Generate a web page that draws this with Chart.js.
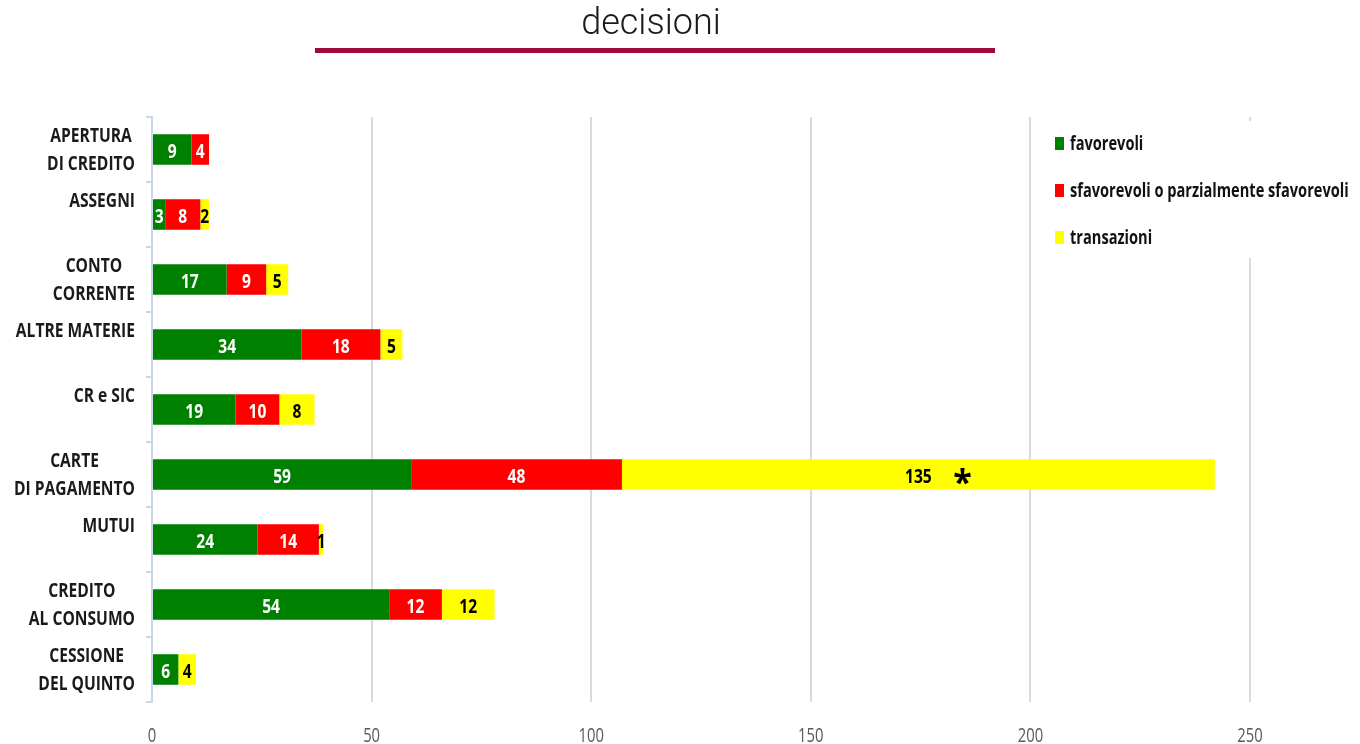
<!DOCTYPE html>
<html>
<head>
<meta charset="utf-8">
<script src="https://cdn.jsdelivr.net/npm/chart.js@4.4.0/dist/chart.umd.min.js"></script>
<style>
  html, body { margin: 0; padding: 0; background: #fff; }
  #wrap { position: relative; width: 1360px; height: 744px; }
  #title { position: absolute; left: 0; top: 1px; width: 1302px; text-align: center;
           font: 300 36px/42px Roboto, "Open Sans", sans-serif; color: #1a1a1a; }
  #rule { position: absolute; left: 315px; top: 48px; width: 680px; height: 5px; background: #9e0a3a; }
</style>
</head>
<body>
<div id="wrap">
  <canvas id="decisioniChart"></canvas>
  <div id="title">decisioni</div>
  <div id="rule"></div>
</div>
<script>
// categorie (seconda riga vuota dove l'etichetta e' su una sola riga)
const categories = [
    ['APERTURA', 'DI CREDITO'],
    ['ASSEGNI', ''],
    ['CONTO', 'CORRENTE'],
    ['ALTRE MATERIE', ''],
    ['CR e SIC', ''],
    ['CARTE', 'DI PAGAMENTO'],
    ['MUTUI', ''],
    ['CREDITO', 'AL CONSUMO'],
    ['CESSIONE', 'DEL QUINTO']
];
const favorevoli  = [9, 3, 17, 34, 19, 59, 24, 54, 6];
const sfavorevoli = [4, 8, 9, 18, 10, 48, 14, 12, 0];
const transazioni = [0, 2, 5, 5, 8, 135, 1, 12, 4];
const transazioniNote = ['', '', '', '', '', '*', '', '', ''];
const xTicks = [0, 50, 100, 150, 200, 250];

const FAMILY = '"Open Sans", "Noto Sans", sans-serif';
const BOLD = 'bold 20px ' + FAMILY;
const SX = 0.78;   // testo stretto come nell'originale

// scrive un testo compresso in orizzontale
function squeezedText(ctx, text, x, y, align, sx) {
    ctx.save();
    ctx.translate(x, y);
    ctx.scale(sx, 1);
    ctx.textAlign = align;
    ctx.textBaseline = 'alphabetic';
    ctx.fillText(text, 0, 0);
    ctx.restore();
}

// valori dentro le barre
const segmentLabels = {
    id: 'segmentLabels',
    afterDatasetsDraw(chart) {
        const ctx = chart.ctx;
        ctx.save();
        chart.data.datasets.forEach((ds, di) => {
            const meta = chart.getDatasetMeta(di);
            meta.data.forEach((bar, i) => {
                const v = ds.data[i];
                if (!v) return;
                const cx = (bar.x + bar.base) / 2;
                ctx.fillStyle = ds.labelColor;
                ctx.font = BOLD;
                squeezedText(ctx, String(v), cx, bar.y + 8, 'center', SX);
                if (ds.notes && ds.notes[i]) {
                    ctx.font = 'bold 34px ' + FAMILY;
                    squeezedText(ctx, ds.notes[i], cx + 44, bar.y + 19, 'center', 1);
                }
            });
        });
        ctx.restore();
    }
};

// etichette categorie: righe centrate fra loro, blocco allineato a destra
const categoryLabels = {
    id: 'categoryLabels',
    afterDraw(chart) {
        const ctx = chart.ctx;
        const y = chart.scales.y;
        const right = chart.chartArea.left - 17;
        const lh = 28;
        ctx.save();
        ctx.font = BOLD;
        ctx.fillStyle = '#1a1a1a';
        categories.forEach((lines, i) => {
            const cy = y.getPixelForTick(i);
            const w = Math.max(...lines.map(l => ctx.measureText(l).width)) * SX;
            const cx = right - w / 2;
            lines.forEach((l, j) => {
                squeezedText(ctx, l, cx, cy + (j - (lines.length - 1) / 2) * lh + 6, 'center', SX);
            });
        });
        ctx.restore();
    }
};

// etichette asse x
const xLabels = {
    id: 'xLabels',
    afterDraw(chart) {
        const ctx = chart.ctx;
        const x = chart.scales.x;
        ctx.save();
        ctx.font = '20px ' + FAMILY;
        ctx.fillStyle = '#595959';
        xTicks.forEach(v => {
            squeezedText(ctx, String(v), x.getPixelForValue(v), chart.chartArea.bottom + 40, 'center', 0.74);
        });
        ctx.restore();
    }
};

// legenda in alto a destra, sopra la griglia
const sideLegend = {
    id: 'sideLegend',
    afterDraw(chart) {
        const ctx = chart.ctx;
        ctx.save();
        ctx.fillStyle = '#fff';
        ctx.fillRect(1032, 121, 328, 137);
        ctx.font = BOLD;
        chart.data.datasets.forEach((ds, i) => {
            const yy = 143 + i * 47;
            ctx.fillStyle = ds.backgroundColor;
            ctx.fillRect(1055, yy - 6, 9, 13);
            ctx.fillStyle = '#111';
            squeezedText(ctx, ds.label, 1070, yy + 7, 'left', 0.73);
        });
        ctx.restore();
    }
};

const ctx = document.getElementById('decisioniChart').getContext('2d');
new Chart(ctx, {
    type: 'bar',
    data: {
        labels: categories,
        datasets: [
            { label: 'favorevoli', data: favorevoli, backgroundColor: '#008000', labelColor: '#fff' },
            { label: 'sfavorevoli o parzialmente sfavorevoli', data: sfavorevoli, backgroundColor: '#ff0000', labelColor: '#fff' },
            { label: 'transazioni', data: transazioni, backgroundColor: '#ffff00', labelColor: '#000', notes: transazioniNote }
        ]
    },
    options: {
        indexAxis: 'y',
        responsive: true,
        maintainAspectRatio: false,
        animation: false,
        categoryPercentage: 1,
        barPercentage: 0.47,
        layout: { padding: { top: 117, right: 110, bottom: 0, left: 0 } },
        plugins: {
            legend: { display: false },
            title: { display: false },
            tooltip: { enabled: false }
        },
        scales: {
            x: {
                stacked: true,
                min: 0,
                max: 250,
                afterBuildTicks: s => { s.ticks = xTicks.map(v => ({ value: v })); },
                afterFit: s => { s.height = 42; },
                border: { display: false },
                grid: {
                    drawTicks: false,
                    lineWidth: 2,
                    color: c => (c.tick && c.tick.value === 0) ? 'rgba(0,0,0,0)' : '#dadada'
                },
                ticks: { display: false }
            },
            y: {
                stacked: true,
                afterFit: s => { s.width = 152; },
                border: { display: true, color: '#c9d7ea', width: 2 },
                grid: {
                    offset: true,
                    drawOnChartArea: false,
                    drawTicks: true,
                    tickLength: 6,
                    color: '#c9d7ea',
                    lineWidth: 2
                },
                ticks: { display: false }
            }
        }
    },
    plugins: [segmentLabels, categoryLabels, xLabels, sideLegend]
});
</script>
</body>
</html>
